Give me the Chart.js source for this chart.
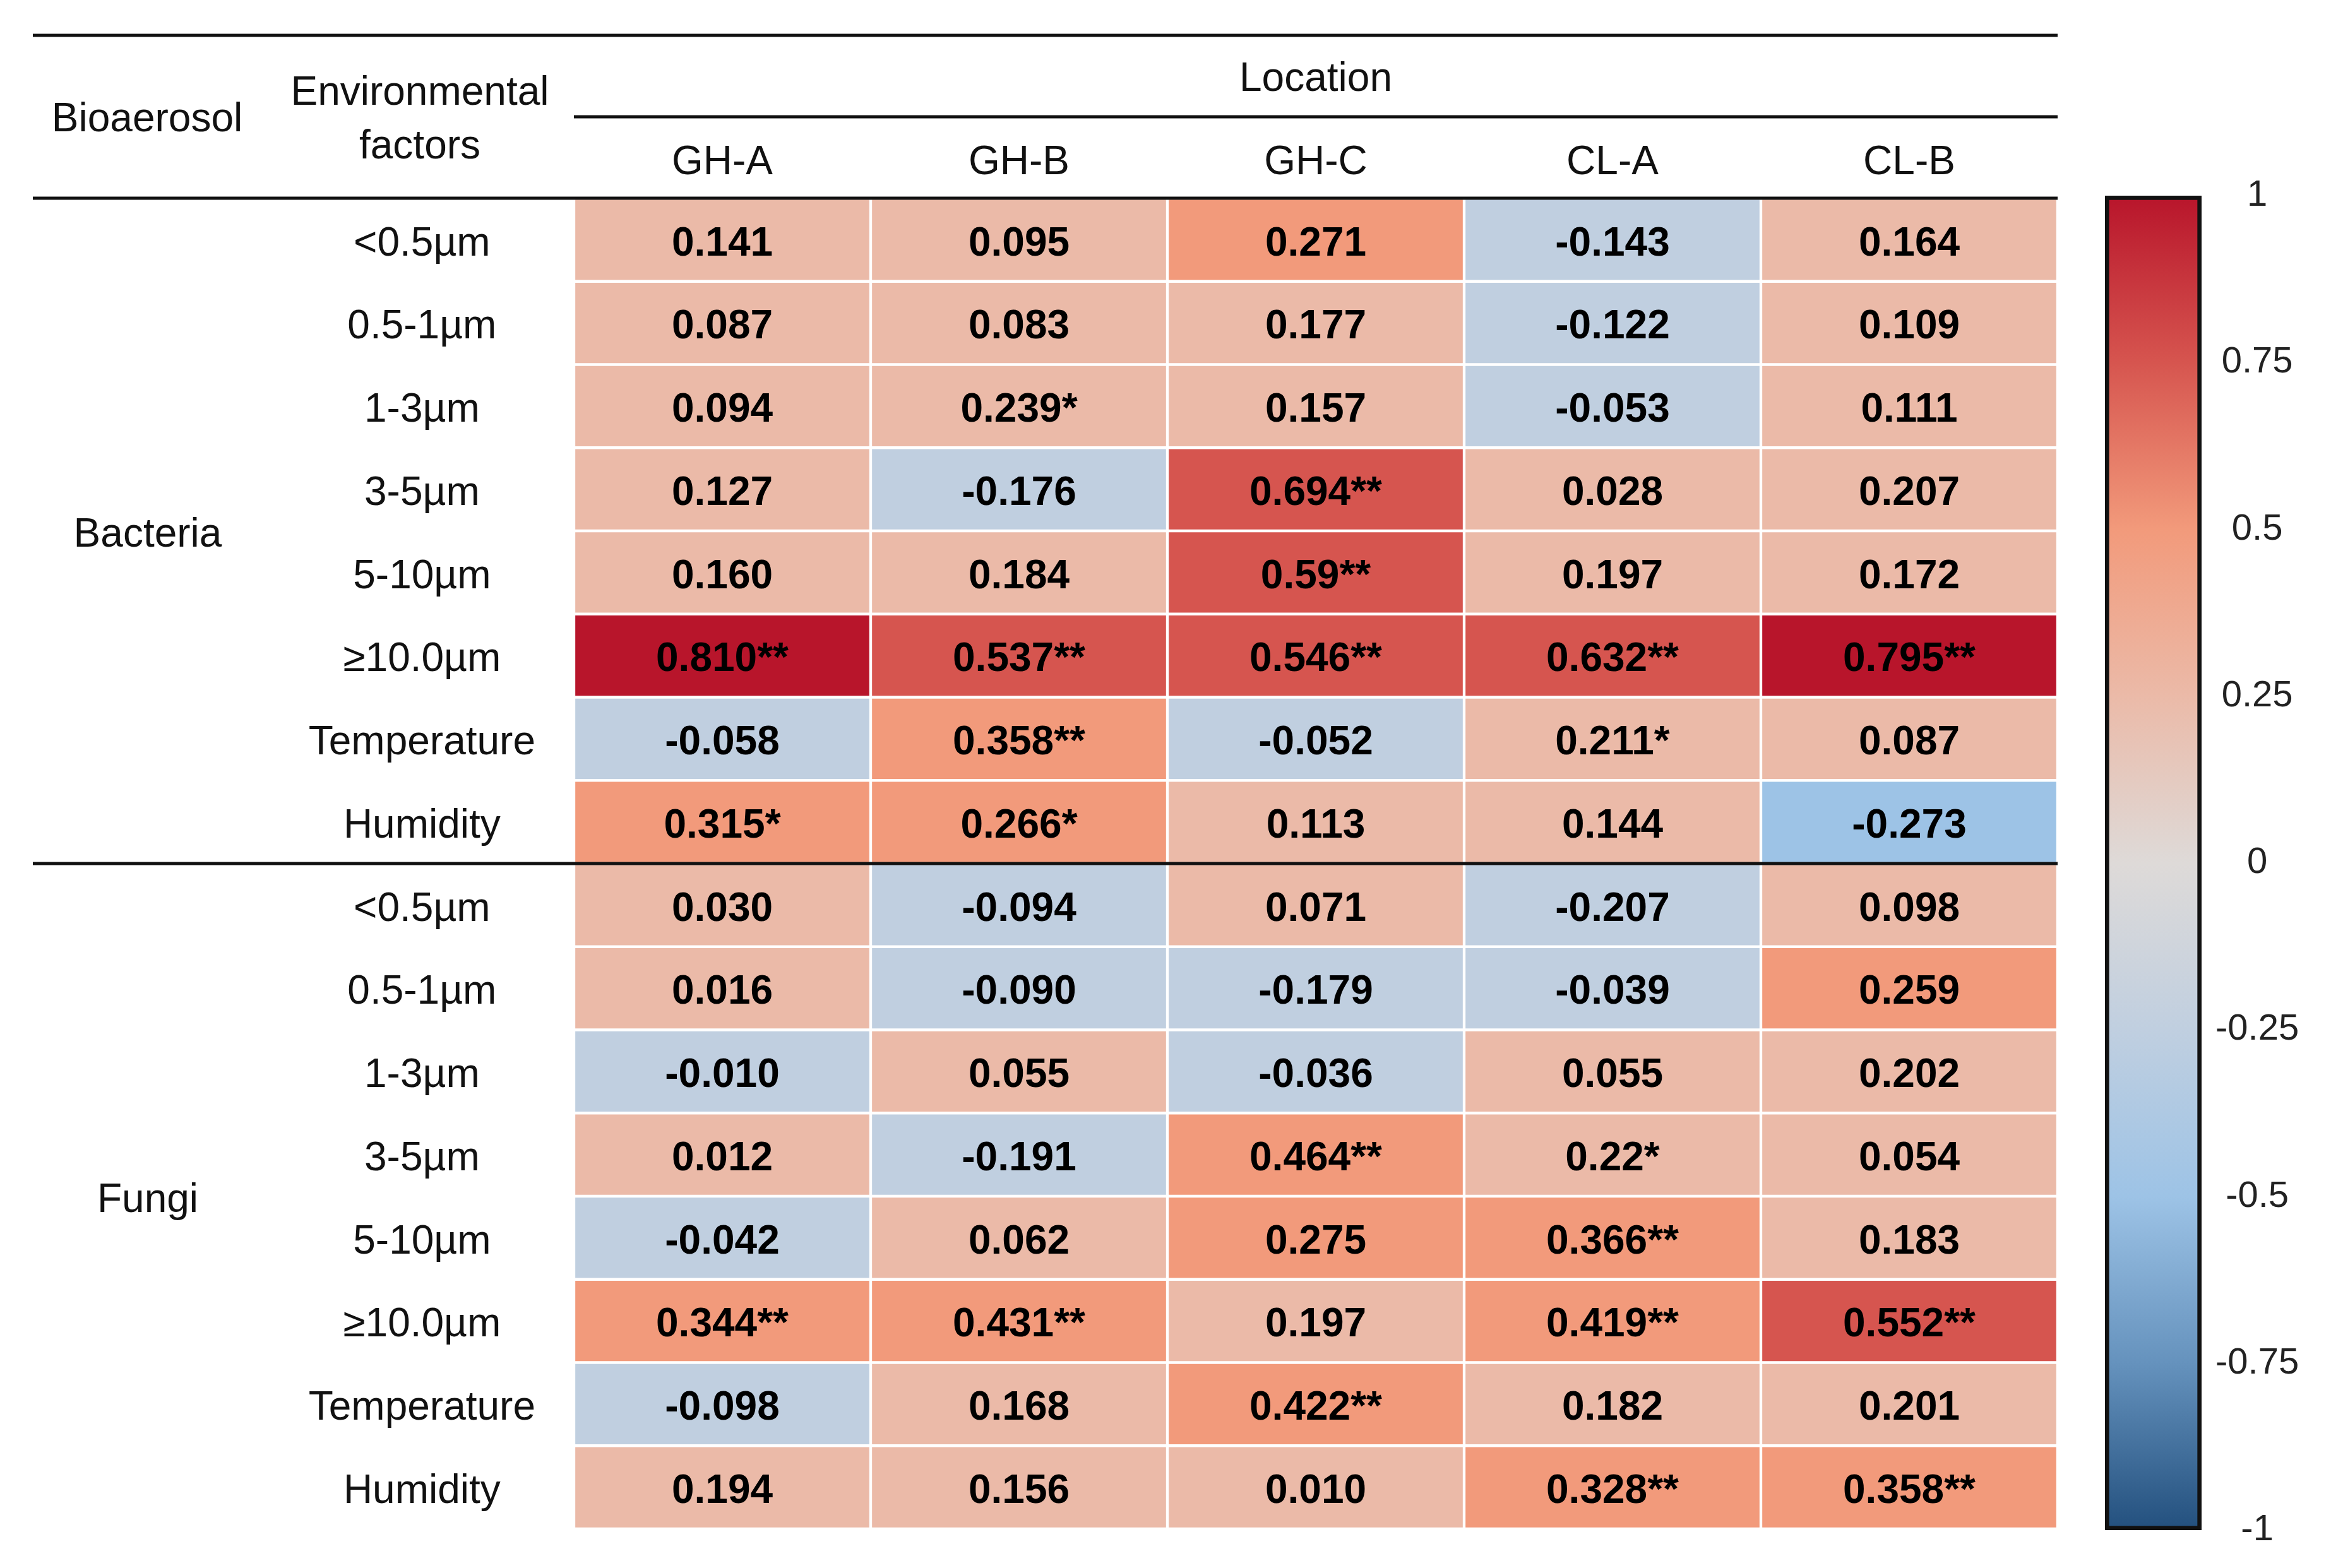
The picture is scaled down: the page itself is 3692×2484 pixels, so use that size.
<!DOCTYPE html>
<html><head><meta charset="utf-8">
<script src="https://cdn.jsdelivr.net/npm/chart.js@4.4.1/dist/chart.umd.min.js"></script>
<style>
html,body{margin:0;padding:0;background:#fff;}
#wrap{position:relative;width:3692px;height:2484px;background:#fff;}
canvas{position:absolute;left:0;top:0;}
</style></head><body>
<div id="wrap"><canvas id="heat" width="3692" height="2484"></canvas><canvas id="cbar" width="3692" height="2484"></canvas></div>
<script>
// ---------- data ----------
const locations = ['GH-A', 'GH-B', 'GH-C', 'CL-A', 'CL-B'];
const factorLabels = ['<0.5µm', '0.5-1µm', '1-3µm', '3-5µm', '5-10µm', '≥10.0µm', 'Temperature', 'Humidity'];
const groups = ['Bacteria', 'Fungi'];

const bacteriaValues = [
  [0.141, 0.095, 0.271, -0.143, 0.164],
  [0.087, 0.083, 0.177, -0.122, 0.109],
  [0.094, 0.239, 0.157, -0.053, 0.111],
  [0.127, -0.176, 0.694, 0.028, 0.207],
  [0.160, 0.184, 0.59, 0.197, 0.172],
  [0.810, 0.537, 0.546, 0.632, 0.795],
  [-0.058, 0.358, -0.052, 0.211, 0.087],
  [0.315, 0.266, 0.113, 0.144, -0.273]
];
const bacteriaText = [
  ['0.141', '0.095', '0.271', '-0.143', '0.164'],
  ['0.087', '0.083', '0.177', '-0.122', '0.109'],
  ['0.094', '0.239*', '0.157', '-0.053', '0.111'],
  ['0.127', '-0.176', '0.694**', '0.028', '0.207'],
  ['0.160', '0.184', '0.59**', '0.197', '0.172'],
  ['0.810**', '0.537**', '0.546**', '0.632**', '0.795**'],
  ['-0.058', '0.358**', '-0.052', '0.211*', '0.087'],
  ['0.315*', '0.266*', '0.113', '0.144', '-0.273']
];
const fungiValues = [
  [0.030, -0.094, 0.071, -0.207, 0.098],
  [0.016, -0.090, -0.179, -0.039, 0.259],
  [-0.010, 0.055, -0.036, 0.055, 0.202],
  [0.012, -0.191, 0.464, 0.22, 0.054],
  [-0.042, 0.062, 0.275, 0.366, 0.183],
  [0.344, 0.431, 0.197, 0.419, 0.552],
  [-0.098, 0.168, 0.422, 0.182, 0.201],
  [0.194, 0.156, 0.010, 0.328, 0.358]
];
const fungiText = [
  ['0.030', '-0.094', '0.071', '-0.207', '0.098'],
  ['0.016', '-0.090', '-0.179', '-0.039', '0.259'],
  ['-0.010', '0.055', '-0.036', '0.055', '0.202'],
  ['0.012', '-0.191', '0.464**', '0.22*', '0.054'],
  ['-0.042', '0.062', '0.275', '0.366**', '0.183'],
  ['0.344**', '0.431**', '0.197', '0.419**', '0.552**'],
  ['-0.098', '0.168', '0.422**', '0.182', '0.201'],
  ['0.194', '0.156', '0.010', '0.328**', '0.358**']
];
const colorbarMin = -1, colorbarMax = 1, colorbarStep = 0.25;

// ---------- style ----------
const FONT = "'Liberation Sans', Arial, Helvetica, sans-serif";
const colorStops = [
  [-1.00, '#23507e'], [-0.75, '#6592bd'], [-0.50, '#9dc3e6'], [-0.25, '#c0cfe0'],
  [0.00, '#dedad8'], [0.25, '#ebbaa8'], [0.50, '#f29a7b'], [0.75, '#d6554f'], [1.00, '#b8152b']
];
function cellColor(v) {
  const lvl = v === 0 ? 0 : Math.sign(v) * Math.ceil(Math.abs(v) / 0.25 - 1e-9) * 0.25;
  let best = colorStops[0];
  colorStops.forEach(s => { if (Math.abs(s[0] - lvl) < Math.abs(best[0] - lvl)) best = s; });
  return best[1];
}

const rowLabels = factorLabels.concat(factorLabels);
const allValues = bacteriaValues.concat(fungiValues);
const allText = bacteriaText.concat(fungiText);
const TEXT_DY = 7;

const datasets = locations.map((loc, j) => ({
  label: loc,
  data: allValues.map(() => [j, j + 1]),
  backgroundColor: ctx => cellColor(allValues[ctx.dataIndex][j]),
  borderColor: '#ffffff',
  borderWidth: 2.5,
  borderSkipped: false,
  barPercentage: 1,
  categoryPercentage: 1,
  grouped: false
}));

const tablePlugin = {
  id: 'tableDecor',
  afterDraw(chart) {
    const c = chart.ctx, area = chart.chartArea, ys = chart.scales.y;
    c.save();
    // cell texts
    c.font = 'bold 64px ' + FONT;
    c.fillStyle = '#000';
    c.textAlign = 'center';
    c.textBaseline = 'middle';
    chart.data.datasets.forEach((ds, j) => {
      chart.getDatasetMeta(j).data.forEach((el, i) => {
        const p = el.getCenterPoint();
        c.fillText(allText[i][j], p.x, p.y + TEXT_DY);
      });
    });
    // header texts
    c.font = '64px ' + FONT;
    c.fillStyle = '#111';
    c.fillText('Bioaerosol', 233, 190);
    c.fillText('Environmental', 665, 148);
    c.fillText('factors', 665, 233);
    c.fillText('Location', (area.left + area.right) / 2, 126);
    c.fillText(groups[0], 234, ys.getPixelForValue((factorLabels.length - 1) / 2) + TEXT_DY);
    c.fillText(groups[1], 234, ys.getPixelForValue(factorLabels.length + (factorLabels.length - 1) / 2) + TEXT_DY);
    // rules
    c.strokeStyle = '#111';
    c.lineWidth = 5;
    const hl = (x0, x1, y) => { c.beginPath(); c.moveTo(x0, y); c.lineTo(x1, y); c.stroke(); };
    hl(52, area.right, 56);
    hl(area.left, area.right, 185);
    hl(52, area.right, area.top);
    hl(52, area.right, ys.getPixelForValue(factorLabels.length - 0.5));
    c.restore();
  }
};

new Chart(document.getElementById('heat'), {
  type: 'bar',
  data: { labels: rowLabels, datasets },
  options: {
    indexAxis: 'y',
    responsive: false,
    devicePixelRatio: 1,
    animation: false,
    events: [],
    layout: { padding: { left: 409, top: 214, right: 433, bottom: 62 } },
    plugins: { legend: { display: false }, tooltip: { enabled: false } },
    scales: {
      x: {
        type: 'linear', position: 'top', min: 0, max: locations.length,
        grid: { display: false, drawTicks: false }, border: { display: false },
        afterBuildTicks: s => { s.ticks = locations.map((_, i) => ({ value: i + 0.5 })); },
        ticks: { autoSkip: false, maxRotation: 0, minRotation: 0, padding: 17, color: '#111',
          font: { family: FONT, size: 64 }, callback: (v, i) => locations[i] },
        afterFit: s => { s.height = 100; s.paddingLeft = 0; s.paddingRight = 0; }
      },
      y: {
        type: 'category', position: 'left', offset: true,
        grid: { display: false, drawTicks: false }, border: { display: false },
        ticks: { autoSkip: false, crossAlign: 'center', padding: 61, labelOffset: TEXT_DY, color: '#111',
          font: { family: FONT, size: 64 } },
        afterFit: s => { s.width = 500; s.paddingTop = 0; s.paddingBottom = 0; }
      }
    }
  },
  plugins: [tablePlugin]
});

function barGradient(chart) {
  const { ctx, chartArea, scales } = chart;
  if (!chartArea || !scales.y) return '#cccccc';
  const y = scales.y;
  const y0 = y.getPixelForValue(colorbarMax), y1 = y.getPixelForValue(colorbarMin);
  const g = ctx.createLinearGradient(0, y0, 0, y1);
  colorStops.forEach(([v, col]) => g.addColorStop((colorbarMax - v) / (colorbarMax - colorbarMin), col));
  return g;
}

new Chart(document.getElementById('cbar'), {
  type: 'bar',
  data: { labels: [''], datasets: [{
    data: [[colorbarMin, colorbarMax]],
    backgroundColor: ctx => barGradient(ctx.chart),
    borderColor: '#111',
    borderWidth: 7,
    borderSkipped: false,
    barPercentage: 1,
    categoryPercentage: 1
  }] },
  options: {
    responsive: false,
    devicePixelRatio: 1,
    animation: false,
    events: [],
    layout: { padding: { left: 3334, right: 51, top: 310, bottom: 60 } },
    plugins: { legend: { display: false }, tooltip: { enabled: false } },
    scales: {
      x: { display: false },
      y: {
        position: 'right', min: colorbarMin, max: colorbarMax,
        grid: { display: false, drawTicks: false }, border: { display: false },
        ticks: { stepSize: colorbarStep, crossAlign: 'center', padding: 22, color: '#222',
          font: { family: FONT, size: 58 }, callback: v => String(+(+v).toFixed(2)) },
        afterFit: s => { s.width = 154; s.paddingTop = 0; s.paddingBottom = 0; }
      }
    }
  }
});
</script>
</body></html>
